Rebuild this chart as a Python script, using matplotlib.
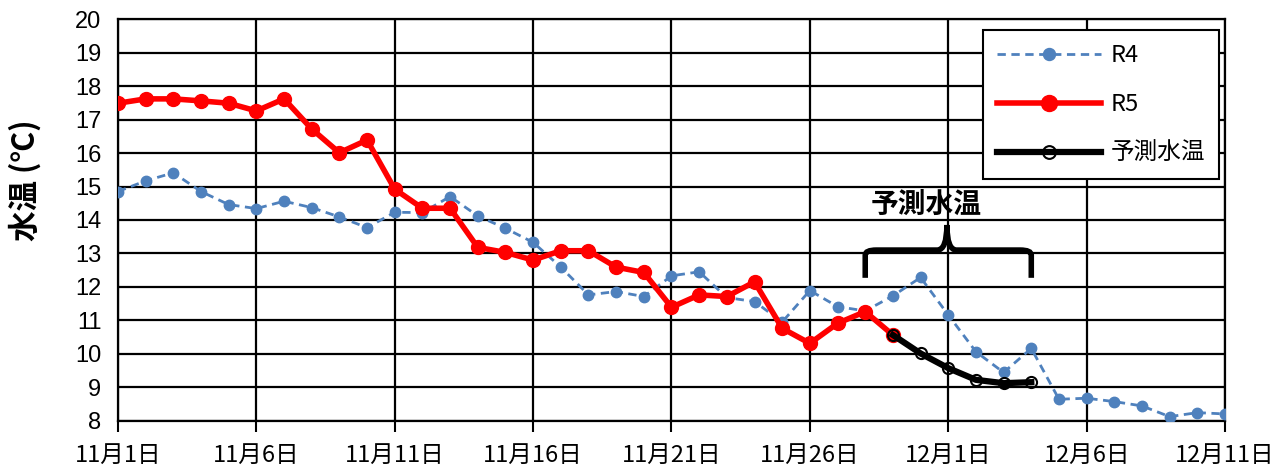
import matplotlib
matplotlib.use('Agg')
import matplotlib.pyplot as plt
from matplotlib.path import Path
from matplotlib.patches import PathPatch

plt.rcParams['font.family'] = ['Noto Sans CJK JP', 'DejaVu Sans']

# 日付ラベル（11月1日〜12月11日）
days = list(range(41))
tick_pos = [0, 5, 10, 15, 20, 25, 30, 35, 40]
tick_labels = ['11月1日', '11月6日', '11月11日', '11月16日', '11月21日',
               '11月26日', '12月1日', '12月6日', '12月11日']

# R4（昨年）水温
r4 = [14.85, 15.17, 15.41, 14.85, 14.46, 14.34, 14.56, 14.37, 14.09, 13.77,
      14.23, 14.22, 14.70, 14.12, 13.75, 13.33, 12.59, 11.76, 11.86, 11.71,
      12.33, 12.45, 11.68, 11.56, 10.95, 11.89, 11.41, 11.28, 11.73, 12.28,
      11.16, 10.06, 9.44, 10.16, 8.64, 8.67, 8.57, 8.44, 8.12, 8.24, 8.20]

# R5（今年）水温
r5 = [17.49, 17.62, 17.62, 17.56, 17.49, 17.26, 17.62, 16.72, 16.01, 16.39,
      14.92, 14.35, 14.35, 13.18, 13.03, 12.80, 13.08, 13.08, 12.59, 12.43,
      11.39, 11.76, 11.71, 12.15, 10.76, 10.31, 10.91, 11.26, 10.56]

# 予測水温
pred_days = [28, 29, 30, 31, 32, 33]
pred = [10.56, 10.01, 9.57, 9.22, 9.12, 9.15]

fig = plt.figure(figsize=(12.88, 4.70), dpi=100)
ax = fig.add_axes([0.0916, 0.105, 0.8595, 0.854])

ax.plot(days, r4, color='#4F81BD', linestyle=(0, (3, 2)), linewidth=2,
        marker='o', markersize=7.5, label='R4', zorder=3)
ax.plot(days[:len(r5)], r5, color='#FF0000', linewidth=4,
        marker='o', markersize=10, label='R5', zorder=4)
ax.plot(pred_days, pred, color='black', linewidth=4.5,
        marker='o', markersize=8, markerfacecolor='none',
        markeredgecolor='black', markeredgewidth=1.5, label='予測水温', zorder=5)

ax.set_xlim(0, 40)
ax.set_ylim(8, 20)
ax.set_xticks(tick_pos)
ax.set_xticklabels(tick_labels, fontsize=17)
ax.set_yticks(range(8, 21))
ax.tick_params(axis='y', length=0, labelsize=17, pad=12)
ax.tick_params(axis='x', length=8, width=1.5, direction='out', pad=9)
for lab in ax.get_yticklabels():
    lab.set_family(['Liberation Sans', 'DejaVu Sans'])

ax.grid(True, color='black', linewidth=1.6)
ax.set_axisbelow(True)
for sp in ax.spines.values():
    sp.set_linewidth(1.6)
    sp.set_color('black')

ax.set_ylabel('水温 (℃)', fontsize=22, fontweight='bold')
ax.yaxis.set_label_coords(-0.069, 0.6)

# 予測水温の括弧
verts = [(27.0, 12.27), (27.0, 12.95), (27.0, 13.1), (27.4, 13.1),
         (29.6, 13.1), (29.95, 13.1), (29.95, 13.85),
         (29.95, 13.1), (30.3, 13.1), (32.6, 13.1),
         (33.0, 13.1), (33.0, 12.95), (33.0, 12.27)]
codes = [Path.MOVETO, Path.LINETO, Path.CURVE3, Path.CURVE3,
         Path.LINETO, Path.CURVE3, Path.CURVE3,
         Path.CURVE3, Path.CURVE3, Path.LINETO,
         Path.CURVE3, Path.CURVE3, Path.LINETO]
ax.add_patch(PathPatch(Path(verts, codes), facecolor='none',
                       edgecolor='black', linewidth=4, zorder=6))
ax.text(29.2, 14.45, '予測水温', fontsize=20, fontweight='bold',
        ha='center', va='center', zorder=6)

leg = ax.legend(loc='upper right', bbox_to_anchor=(0.9945, 0.974), fontsize=17,
                frameon=True, fancybox=False, edgecolor='black',
                borderpad=0.6, labelspacing=1.1, handlelength=4.4,
                handletextpad=0.4, borderaxespad=0, markerscale=1.15)
leg.get_frame().set_linewidth(1.5)
leg.get_frame().set_alpha(1)

fig.savefig('out.png', dpi=100)
